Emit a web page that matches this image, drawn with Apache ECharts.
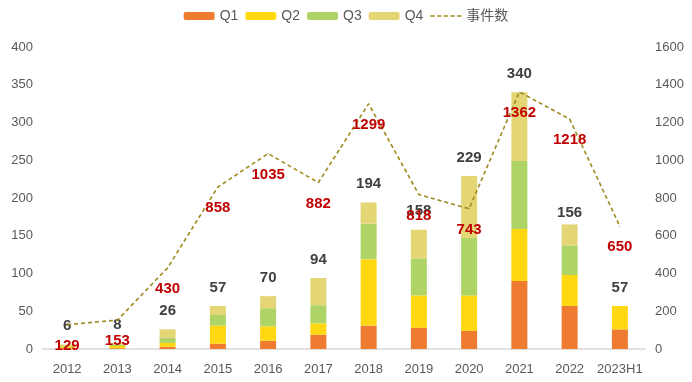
<!DOCTYPE html>
<html>
<head>
<meta charset="utf-8">
<script src="https://cdn.jsdelivr.net/npm/echarts@6/dist/echarts.min.js"></script>
<style>html,body{margin:0;padding:0;background:#fff}#c{width:692px;height:382px}</style>
</head>
<body>
<div id="c"></div>
<script>
var categories = ['2012','2013','2014','2015','2016','2017','2018','2019','2020','2021','2022','2023H1'];
var q1 = [1, 1, 3, 7, 11, 19, 31, 28, 24, 90, 57, 26];
var q2 = [2, 3, 5, 24, 19, 15, 88, 43, 47, 69, 41, 31];
var q3 = [1, 2, 7, 14, 24, 24, 47, 49, 76, 90, 39, 0];
var q4 = [2, 2, 11, 12, 16, 36, 28, 38, 82, 91, 28, 0];
var totals = [6, 8, 26, 57, 70, 94, 194, 158, 229, 340, 156, 57];
var events = [129, 153, 430, 858, 1035, 882, 1299, 818, 743, 1362, 1218, 650];
var leftTicks = [0, 400, 50];
var rightTicks = [0, 1600, 200];

var chart = echarts.init(document.getElementById('c'));
var axisLabelStyle = {color: '#595959', fontSize: 13, fontFamily: 'Liberation Sans, Arial, sans-serif'};
function barSeries(name, data, color) {
  return {name: name, type: 'bar', stack: 'q', data: data, barWidth: 16,
    itemStyle: {color: color}, emphasis: {disabled: true}};
}
chart.setOption({
  animation: false,
  legend: {
    top: 4, left: 'center',
    itemWidth: 31, itemHeight: 8, itemGap: 7,
    textStyle: {color: '#595959', fontSize: 14, fontFamily: 'Liberation Sans, Noto Sans CJK SC, sans-serif'},
    data: ['Q1', 'Q2', 'Q3', 'Q4', {name: '事件数', icon: 'path://M0,4h4v1.4h-4z M6.5,4h4v1.4h-4z M13,4h4v1.4h-4z M19.5,4h4v1.4h-4z M26,4h4v1.4h-4z', itemStyle: {color: '#9E8A1E', opacity: 1}}]
  },
  grid: {left: 42, right: 47, top: 47, bottom: 33},
  xAxis: {
    type: 'category', data: categories,
    axisLine: {lineStyle: {color: '#D9D9D9', width: 1.5}},
    axisTick: {show: false},
    axisLabel: Object.assign({margin: 14, interval: 0}, axisLabelStyle)
  },
  yAxis: [
    {type: 'value', min: leftTicks[0], max: leftTicks[1], interval: leftTicks[2],
      axisLine: {show: false}, axisTick: {show: false}, splitLine: {show: false},
      axisLabel: Object.assign({margin: 9}, axisLabelStyle)},
    {type: 'value', min: rightTicks[0], max: rightTicks[1], interval: rightTicks[2],
      axisLine: {show: false}, axisTick: {show: false}, splitLine: {show: false},
      axisLabel: Object.assign({margin: 10, formatter: function (v) { return String(v); }}, axisLabelStyle)}
  ],
  series: [
    barSeries('Q1', q1, '#EE7B30'),
    barSeries('Q2', q2, '#FFD812'),
    barSeries('Q3', q3, '#AFD466'),
    barSeries('Q4', q4, '#E4D575'),
    {name: '合计', type: 'bar', data: totals, barWidth: 16, barGap: '-100%',
      itemStyle: {color: 'rgba(0,0,0,0)'}, silent: true,
      label: {show: true, position: 'top', distance: 11, color: '#404040', fontSize: 15, fontWeight: 'bold',
        fontFamily: 'Liberation Sans, Arial, sans-serif'}},
    {name: '事件数', type: 'line', yAxisIndex: 1, data: events, symbol: 'circle', symbolSize: 1,
      showSymbol: true,
      lineStyle: {color: '#9E8A1E', width: 1.6, type: [4, 3]},
      itemStyle: {color: '#9E8A1E'},
      label: {show: true, position: 'bottom', distance: 13, color: '#C00000', fontSize: 15, fontWeight: 'bold',
        fontFamily: 'Liberation Sans, Arial, sans-serif'},
      labelLayout: {hideOverlap: false},
      z: 5}
  ]
});
</script>
</body>
</html>
